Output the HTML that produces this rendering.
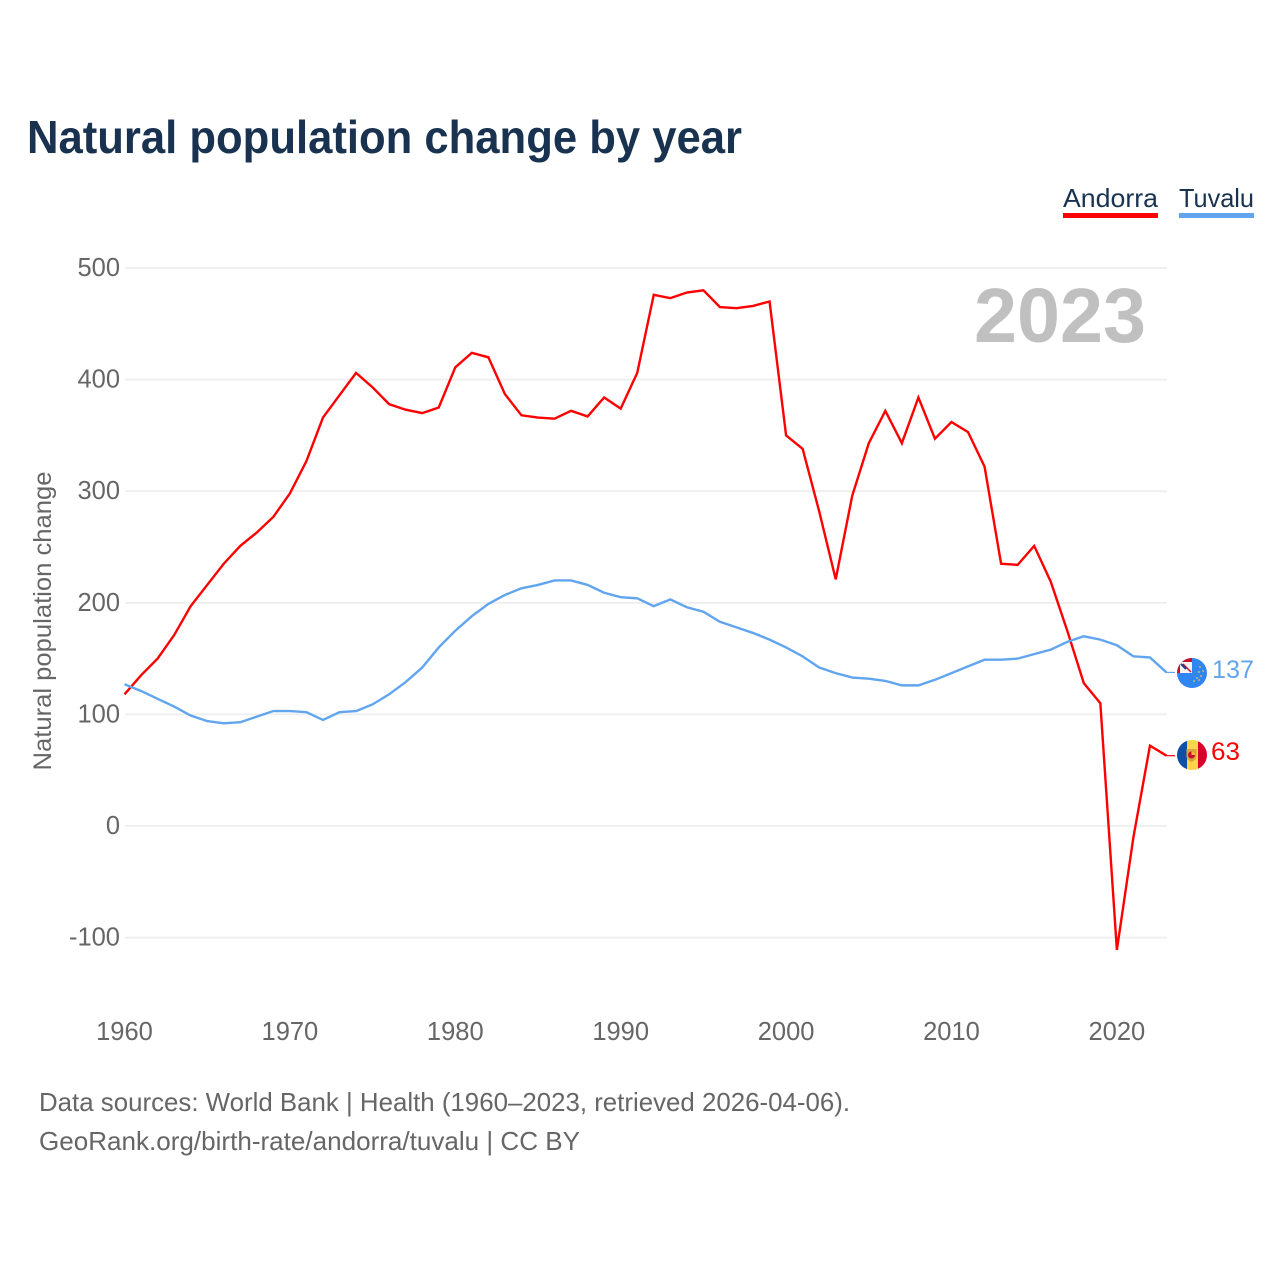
<!DOCTYPE html>
<html lang="en">
<head>
<meta charset="utf-8">
<title>Natural population change by year</title>
<style>
html,body{margin:0;padding:0;background:#fff;}
svg{display:block;}
text{font-family:"Liberation Sans",sans-serif;}
</style>
</head>
<body>
<svg id="chart" xmlns="http://www.w3.org/2000/svg" width="1280" height="1280" viewBox="0 0 1280 1280">
  <rect width="1280" height="1280" fill="#ffffff"/>
  <text x="27" y="153" font-size="46" font-weight="700" fill="#18324f" textLength="715" lengthAdjust="spacingAndGlyphs">Natural population change by year</text>

  <text x="1063" y="207" font-size="26" fill="#18324f" textLength="95" lengthAdjust="spacingAndGlyphs">Andorra</text>
  <rect x="1063" y="213" width="95" height="5" fill="#ff0000"/>
  <text x="1179" y="207" font-size="26" fill="#18324f" textLength="75" lengthAdjust="spacingAndGlyphs">Tuvalu</text>
  <rect x="1179" y="213" width="75" height="5" fill="#60a5ee"/>

  <g id="grid"></g>
  <g id="yticks"></g>
  <g id="xticks"></g>

  <text x="1146" y="342" text-anchor="end" font-size="77" font-weight="700" fill="#c0c0c0" textLength="172" lengthAdjust="spacingAndGlyphs">2023</text>

  <text transform="translate(51,621) rotate(-90)" text-anchor="middle" font-size="25" fill="#666666" textLength="299" lengthAdjust="spacingAndGlyphs">Natural population change</text>

  <g id="series"></g>

  <defs>
    <clipPath id="clip-tuvalu"><circle cx="1192" cy="673" r="15"/></clipPath>
    <clipPath id="clip-andorra"><circle cx="1192" cy="755" r="15"/></clipPath>
  </defs>

  <g clip-path="url(#clip-tuvalu)">
    <rect x="1177" y="658" width="30" height="30" fill="#2f86f0"/>
    <rect x="1177" y="658" width="15" height="15" fill="#c8102e"/>
    <rect x="1180" y="662" width="12" height="11" fill="#f3f3f3"/>
    <path d="M1183 664 L1191 672" stroke="#c8102e" stroke-width="1.5"/>
    <path d="M1181 664 L1186 669" stroke="#1f3f8f" stroke-width="2"/>
    <g fill="#e4c75a">
      <circle cx="1200" cy="667" r="0.9"/>
      <circle cx="1203" cy="671" r="0.9"/>
      <circle cx="1199" cy="672" r="0.9"/>
      <circle cx="1201" cy="676" r="0.9"/>
      <circle cx="1197" cy="678" r="0.9"/>
      <circle cx="1194" cy="681" r="0.9"/>
      <circle cx="1199" cy="680" r="0.9"/>
    </g>
  </g>

  <g clip-path="url(#clip-andorra)">
    <rect x="1177" y="740" width="10" height="30" fill="#0f4fa8"/>
    <rect x="1187" y="740" width="11" height="30" fill="#fed44a"/>
    <rect x="1198" y="740" width="9" height="30" fill="#d8002c"/>
    <path d="M1186.5 749 h10 v7 q0 4 -5 6 q-5 -2 -5 -6 z" fill="#d9a63a"/>
    <circle cx="1191.5" cy="755" r="3.5" fill="#c8102e"/>
    <path d="M1191.5 751.5 v3.5 h3.5 a3.5 3.5 0 0 0 -3.5 -3.5 z" fill="#f4c430"/>
  </g>

  <text x="1212" y="678" font-size="25" fill="#60a5ee" textLength="42" lengthAdjust="spacingAndGlyphs">137</text>
  <text x="1211" y="760" font-size="25" fill="#ff0000" textLength="29" lengthAdjust="spacingAndGlyphs">63</text>

  <text x="39" y="1111" font-size="26" fill="#666666" textLength="811" lengthAdjust="spacingAndGlyphs">Data sources: World Bank | Health (1960–2023, retrieved 2026-04-06).</text>
  <text x="39" y="1150" font-size="26" fill="#666666" textLength="541" lengthAdjust="spacingAndGlyphs">GeoRank.org/birth-rate/andorra/tuvalu | CC BY</text>
</svg>

<script>
const startYear = 1960;
const andorraValues = [118,135,150,171,197,216,235,251,263,277,298,327,366,386,406,393,378,373,370,375,411,424,420,387,368,366,365,372,367,384,374,406,476,473,478,480,465,464,466,470,350,338,282,221,296,343,372,343,384,347,362,353,322,235,234,251,219,175,128,110,-111,-10,72,63];
const tuvaluValues = [127,121,114,107,99,94,92,93,98,103,103,102,95,102,103,109,118,129,142,160,175,188,199,207,213,216,220,220,216,209,205,204,197,203,196,192,183,178,173,167,160,152,142,137,133,132,130,126,126,131,137,143,149,149,150,154,158,165,170,167,162,152,151,137.6];
const yTickValues = [500,400,300,200,100,0,-100];
const xTickYears = [1960,1970,1980,1990,2000,2010,2020];

const NS = 'http://www.w3.org/2000/svg';
const xScale = function (year) { return 124.5 + (year - 1960) * (1166.5 - 124.5) / 63; };
const yScale = function (value) { return 826 - value * 1.116; };

function make(tag, attrs, parent) {
  const el = document.createElementNS(NS, tag);
  Object.keys(attrs).forEach(function (k) { el.setAttribute(k, attrs[k]); });
  parent.appendChild(el);
  return el;
}

const grid = document.getElementById('grid');
const yticks = document.getElementById('yticks');
const xticks = document.getElementById('xticks');
const series = document.getElementById('series');

yTickValues.forEach(function (v) {
  const line = make('line', { x1: 125, x2: 1167, y1: yScale(v), y2: yScale(v), stroke: '#eeeeee', 'stroke-width': 1.8 }, grid);
  
  
  const label = make('text', { x: 120, y: yScale(v) + 8, 'text-anchor': 'end', 'font-size': 25.5, fill: '#666666' }, yticks);
  
  
  label.textContent = String(v);
});

xTickYears.forEach(function (yr) {
  const label = make('text', { x: xScale(yr), y: 1040, 'text-anchor': 'middle', 'font-size': 25.5, fill: '#666666' }, xticks);
  
  
  label.textContent = String(yr);
});

function drawSeries(values, color, name, flagX) {
  const pts = values.map(function (v, i) { return xScale(startYear + i).toFixed(2) + ',' + yScale(v).toFixed(2); });
  const line = make('polyline', { points: pts.join(' '), fill: 'none', stroke: color, 'stroke-width': 2.4, 'stroke-linejoin': 'miter' }, series);
  
  
  const lastY = yScale(values[values.length - 1]);
  const connector = make('line', { x1: xScale(startYear + values.length - 1), x2: flagX, y1: lastY, y2: lastY, stroke: color, 'stroke-width': 1.2 }, series);
  
  
}

drawSeries(andorraValues, '#ff0000', 'andorra', 1175);
drawSeries(tuvaluValues, '#60a5ee', 'tuvalu', 1175);
</script>
</body>
</html>
